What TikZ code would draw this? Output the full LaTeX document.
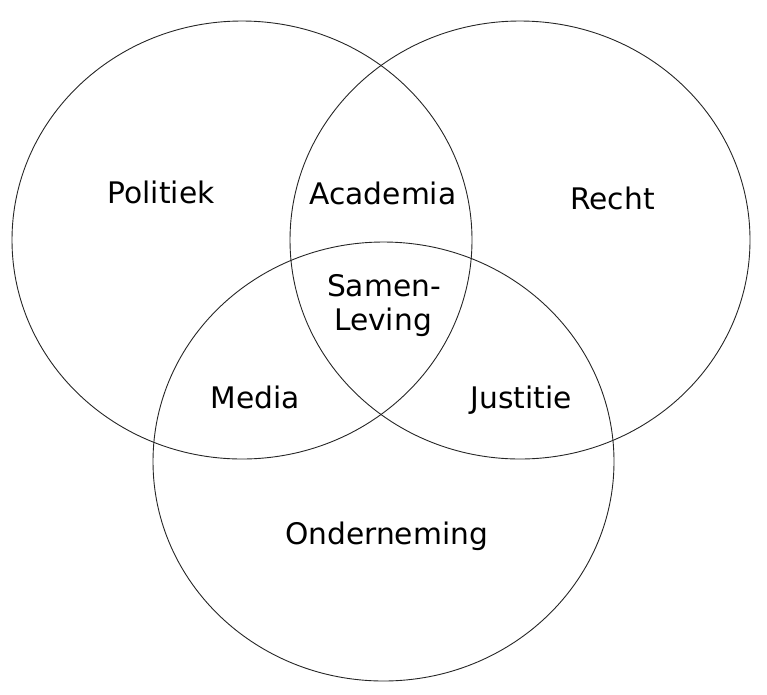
\documentclass[tikz,border=0pt]{standalone}
\usepackage{fontspec}
\setmainfont{DejaVu Sans}
\begin{document}
\begin{tikzpicture}[x=1pt,y=-1pt,
  setring/.style={draw=black!85,line width=0.9pt},
  lbl/.style={font=\fontsize{29.7}{35}\selectfont,inner sep=0pt,anchor=base}]
\useasboundingbox (0,0) rectangle (767,694);
\draw[setring] (242,240) ellipse [x radius=230,y radius=219];
\draw[setring] (520,240) ellipse [x radius=230,y radius=219];
\draw[setring] (383.5,461.5) ellipse [x radius=230.5,y radius=219.5];
\node[lbl] (politiek) at (161,203) {Politiek};
\node[lbl] (academia) at (383,204) {Academia};
\node[lbl] (recht) at (612.5,209) {Recht};
\node[lbl] (samen) at (384,296) {Samen-};
\node[lbl] (leving) at (383,330) {Leving};
\node[lbl] (media) at (255,408) {Media};
\node[lbl] (justitie) at (521,408) {Justitie};
\node[lbl] (onder) at (386.5,544) {Onderneming};
\end{tikzpicture}
\end{document}
